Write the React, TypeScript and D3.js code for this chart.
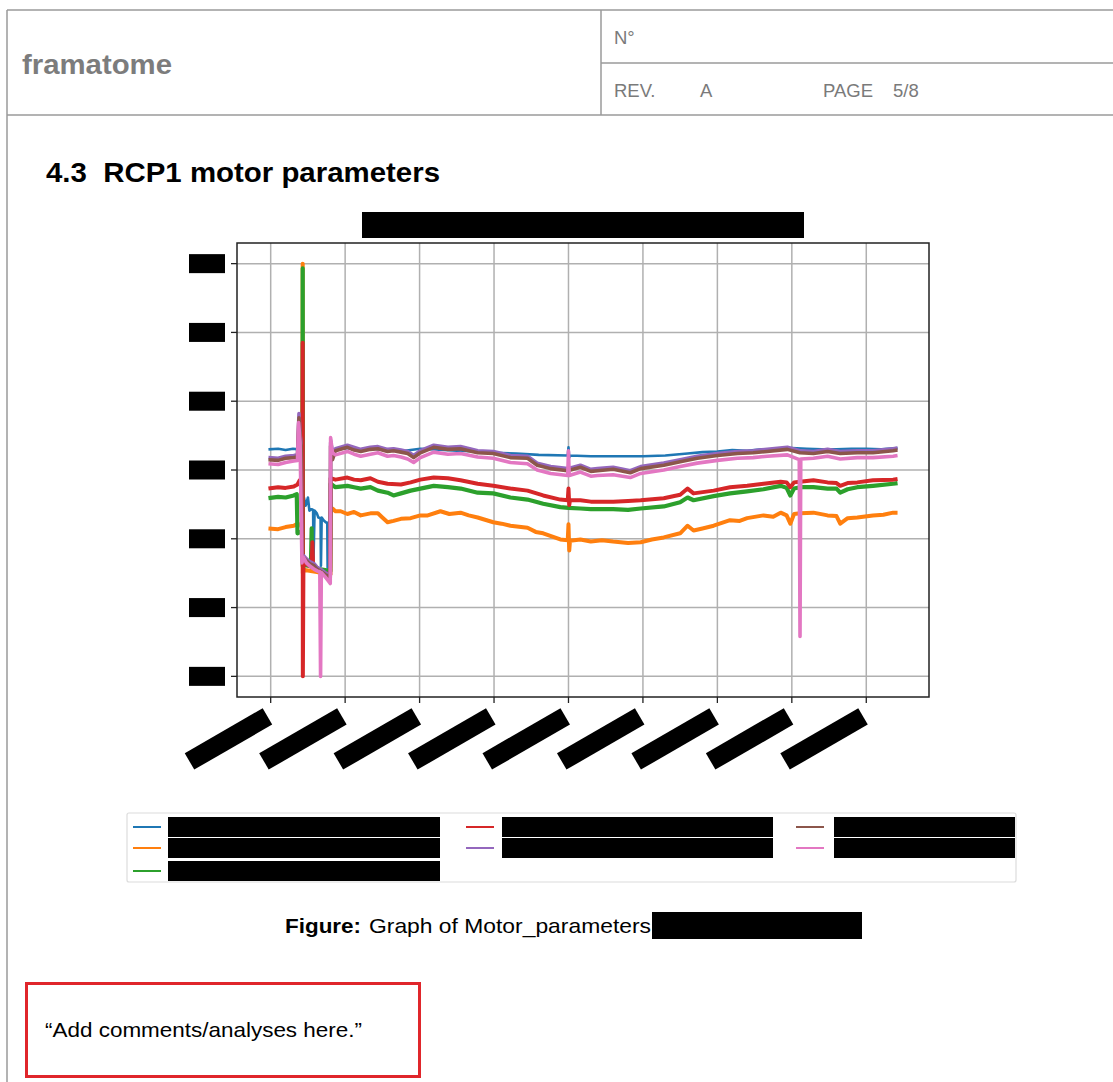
import React, { useEffect } from 'react';
import * as d3 from 'd3';

type Pt = [number, number];

// ---- data (tick labels and series names are redacted in the source) ----
const xTicks = [0, 10, 20, 30, 40, 50, 60, 70, 80];
const yTicks = [0, 10, 20, 30, 40, 50, 60];
const seriesKeys = ['blue', 'orange', 'green', 'red', 'purple', 'brown', 'pink'];
const seriesColors = ['#1f77b4', '#ff7f0e', '#2ca02c', '#d62728', '#9467bd', '#8c564b', '#e377c2'];

const blueSeries: Pt[] = [
  [-0.3, 33.0], [1, 33.1], [2, 32.9], [3, 33.1], [3.7, 33.0], [3.9, 33.3], [4.0, 33.0], [4.1, 26.0],
  [4.4, 26.3], [4.7, 24.8], [5.0, 26.0], [5.2, 24.1], [5.5, 24.3], [5.7, 24.2], [5.75, 17.0], [5.9, 24.1],
  [6.2, 23.7], [6.4, 23.1], [6.7, 23.0], [6.75, 16.1], [6.85, 23.1], [7.1, 22.7], [7.4, 22.4], [7.6, 22.3],
  [7.65, 15.8], [7.8, 22.4], [7.9, 21.9], [8.0, 21.9], [8.05, 34.6], [8.3, 33.0], [8.7, 33.0], [10.3, 33.2],
  [12, 32.9], [13.4, 33.1], [15, 33.0], [16.5, 32.9], [18, 32.8], [20.1, 33.1], [22, 33.0], [25, 32.8],
  [28, 32.7], [30, 32.5], [33, 32.4], [36, 32.2], [39.9, 32.1], [40.0, 33.3], [40.1, 31.8], [40.2, 32.1],
  [43, 32.0], [46, 32.0], [50, 32.0], [53, 32.1], [56, 32.4], [58, 32.6], [60, 32.7], [62, 32.9], [64, 32.8],
  [66, 33.0], [68, 33.0], [70, 33.2], [72, 33.1], [74, 33.0], [76, 33.0], [78, 33.1], [80, 33.1], [82, 33.0],
  [84.2, 33.2],
];

const orangeSeries: Pt[] = [
  [-0.3, 21.5], [1, 21.4], [2, 21.7], [3.1, 21.9], [3.6, 22.2], [4.0, 22.0], [4.28, 21.5], [4.3, 60.0],
  [4.32, 15.0], [4.4, 15.5], [6.0, 15.2], [8.0, 14.8], [8.05, 23.8], [8.3, 24.4], [8.7, 24.0], [9.4, 24.0],
  [10.3, 23.6], [11.2, 23.9], [12.1, 23.4], [13.4, 23.7], [14.4, 23.7], [15.0, 23.1], [15.7, 22.4], [16.5, 22.6],
  [17.5, 22.9], [18.8, 23.0], [20.1, 23.4], [21.1, 23.4], [22.8, 24.0], [24.0, 23.6], [25.5, 23.8], [26.6, 23.4],
  [27.8, 23.1], [29.9, 22.4], [31.0, 22.2], [32.2, 21.9], [34.5, 21.6], [35.6, 21.0], [36.6, 20.8], [38.9, 19.9],
  [39.9, 19.8], [40.0, 22.1], [40.1, 18.3], [40.2, 19.7], [41.6, 19.9], [43.0, 19.6], [44.5, 19.8], [46.0, 19.6],
  [48.0, 19.4], [49.7, 19.5], [51.2, 19.9], [52.8, 20.2], [55.0, 20.8], [56.0, 21.9], [56.8, 21.2], [58.0, 21.5],
  [59.5, 21.9], [61.7, 22.7], [63.0, 22.6], [64.0, 23.0], [66.2, 23.4], [67.5, 23.2], [68.5, 23.8], [69.3, 23.4],
  [69.8, 22.2], [70.3, 23.6], [71.1, 23.7], [72.9, 23.8], [74.8, 23.4], [76.0, 23.3], [76.5, 22.2], [77.5, 23.0],
  [78.8, 23.1], [80.9, 23.4], [82.3, 23.5], [83.6, 23.8], [84.2, 23.8],
];

const greenSeries: Pt[] = [
  [-0.3, 25.9], [1, 26.1], [2, 26.0], [3.1, 26.3], [3.5, 26.5], [3.6, 20.8], [4.0, 21.0], [4.28, 21.0],
  [4.3, 59.3], [4.32, 16.0], [4.4, 16.2], [5.4, 16.0], [5.5, 21.5], [5.55, 16.0], [6.5, 15.6], [7.5, 15.4],
  [8.0, 15.3], [8.05, 28.0], [8.7, 27.5], [10.3, 27.7], [11.2, 27.5], [12.1, 27.3], [13.4, 27.5], [14.4, 27.0],
  [15.7, 26.7], [16.5, 26.3], [17.5, 26.6], [18.8, 27.0], [20.1, 27.3], [21.9, 27.7], [23.8, 27.5], [25.5, 27.3],
  [27.8, 26.7], [29.9, 26.6], [32.2, 26.0], [34.5, 25.7], [36.6, 25.1], [38.9, 24.6], [40.0, 24.5], [41.6, 24.4],
  [43.0, 24.3], [46.0, 24.3], [48.0, 24.2], [49.7, 24.4], [52.8, 24.7], [55.0, 25.3], [56.0, 26.0], [56.8, 25.6],
  [59.5, 26.2], [61.7, 26.6], [64.0, 26.9], [66.2, 27.2], [68.5, 27.7], [69.3, 27.4], [69.8, 26.3], [70.3, 27.3],
  [71.1, 27.5], [72.9, 27.5], [74.8, 27.3], [76.0, 27.3], [76.5, 26.7], [77.5, 27.2], [78.8, 27.5], [80.9, 27.7],
  [83.6, 28.0], [84.2, 28.1],
];

const redSeries: Pt[] = [
  [-0.3, 27.3], [1, 27.5], [2, 27.4], [3.1, 27.6], [3.6, 27.9], [3.9, 28.5], [4.25, 28.3], [4.3, 48.5],
  [4.32, 0.0], [4.4, 16.5], [5.0, 16.2], [5.5, 15.9], [5.6, 19.5], [5.7, 16.0], [6.5, 15.5], [7.3, 15.0],
  [8.0, 14.8], [8.05, 28.8], [8.7, 28.6], [10.3, 28.9], [11.2, 28.6], [12.1, 28.5], [13.4, 28.8], [14.4, 28.3],
  [15.7, 28.0], [17.5, 27.9], [18.8, 28.2], [20.1, 28.6], [21.9, 28.9], [23.8, 28.8], [25.5, 28.5], [27.8, 28.0],
  [29.9, 27.7], [32.2, 27.3], [34.5, 27.0], [36.6, 26.3], [38.9, 25.7], [39.9, 25.6], [40.0, 27.3], [40.1, 24.9],
  [40.2, 25.6], [41.6, 25.6], [43.0, 25.4], [46.0, 25.4], [48.0, 25.5], [49.7, 25.6], [52.8, 25.9], [55.0, 26.4],
  [56.0, 27.3], [56.8, 26.6], [59.5, 27.0], [61.7, 27.5], [64.0, 27.7], [66.2, 28.0], [68.5, 28.3], [69.3, 28.2],
  [69.8, 27.5], [70.3, 28.2], [71.1, 28.3], [72.9, 28.5], [74.8, 28.2], [76.0, 28.1], [76.5, 27.7], [77.5, 28.1],
  [78.8, 28.2], [80.9, 28.5], [83.6, 28.6], [84.2, 28.7],
];

const purpleSeries: Pt[] = [
  [-0.3, 31.8], [1, 31.7], [2, 32.0], [3.1, 32.1], [3.6, 32.2], [3.8, 38.2], [3.95, 35.2], [4.1, 33.8],
  [4.2, 17.8], [4.7, 17.2], [5.2, 16.7], [5.8, 16.4], [6.2, 15.9], [6.8, 15.5], [7.3, 15.1], [7.8, 14.8],
  [8.0, 14.5], [8.05, 34.0], [8.3, 31.8], [8.7, 33.1], [10.3, 33.6], [12.1, 33.0], [13.4, 33.3], [14.4, 33.4],
  [15.7, 33.0], [16.5, 33.1], [17.5, 32.9], [18.4, 32.7], [19.2, 32.1], [20.1, 32.8], [21.9, 33.6], [23.8, 33.3],
  [25.5, 33.4], [27.8, 32.8], [29.9, 32.7], [32.2, 32.1], [34.5, 32.0], [35.8, 31.0], [37.6, 30.5], [39.9, 30.2],
  [41.6, 30.7], [43.0, 30.1], [43.9, 30.2], [46.0, 30.4], [48.3, 29.9], [49.7, 30.5], [52.8, 31.0], [55.0, 31.5],
  [57.3, 32.0], [60.0, 32.4], [62.7, 32.7], [64.8, 32.8], [66.7, 33.0], [69.4, 33.3], [71.1, 32.8], [72.9, 32.7],
  [74.8, 33.0], [76.5, 32.7], [78.8, 32.8], [80.9, 32.8], [83.6, 33.1], [84.2, 33.2],
];

const brownSeries: Pt[] = [
  [-0.3, 31.5], [1, 31.4], [2, 31.7], [3.1, 31.8], [3.6, 31.9], [3.8, 37.6], [3.95, 35.0], [4.1, 33.5],
  [4.2, 17.5], [4.7, 16.9], [5.2, 16.4], [5.8, 16.1], [6.2, 15.6], [6.8, 15.2], [7.3, 14.8], [7.8, 14.5],
  [8.0, 14.2], [8.05, 33.5], [8.3, 31.5], [8.7, 32.8], [10.3, 33.3], [11.2, 32.9], [12.1, 32.7], [13.4, 33.0],
  [14.4, 33.1], [15.7, 32.7], [16.5, 32.8], [17.5, 32.6], [18.4, 32.4], [19.2, 31.8], [20.1, 32.5], [21.9, 33.3],
  [23.8, 33.0], [25.5, 33.1], [26.6, 32.8], [27.8, 32.5], [29.9, 32.4], [32.2, 31.8], [34.5, 31.7], [35.8, 30.7],
  [37.6, 30.2], [39.9, 29.9], [41.6, 30.4], [43.0, 29.8], [43.9, 29.9], [46.0, 30.1], [48.3, 29.6], [49.7, 30.2],
  [52.8, 30.7], [55.0, 31.2], [57.3, 31.7], [60.0, 32.1], [62.7, 32.4], [64.8, 32.5], [66.7, 32.7], [69.4, 33.0],
  [71.1, 32.5], [72.9, 32.4], [74.8, 32.7], [76.5, 32.4], [78.8, 32.5], [80.9, 32.5], [83.6, 32.8], [84.2, 32.9],
];

const pinkSeries: Pt[] = [
  [-0.3, 30.9], [1, 30.8], [2, 31.1], [3.1, 31.3], [3.6, 31.4], [3.75, 36.9], [3.95, 34.0], [4.2, 16.5],
  [4.4, 17.3], [4.8, 16.5], [5.3, 16.0], [5.8, 15.6], [6.3, 15.3], [6.6, 15.2], [6.7, 0.0], [6.8, 15.1],
  [7.3, 14.5], [7.8, 13.8], [8.0, 13.5], [8.05, 34.7], [8.3, 32.5], [8.7, 32.2], [10.3, 32.7], [11.2, 32.3],
  [12.1, 32.0], [13.4, 32.3], [14.4, 32.5], [15.7, 32.0], [16.5, 32.1], [17.5, 31.9], [18.4, 31.6], [19.2, 31.1],
  [20.1, 31.8], [21.9, 32.6], [23.8, 32.3], [25.5, 32.4], [27.8, 31.9], [29.9, 31.7], [32.2, 31.1], [34.5, 30.9],
  [35.8, 30.0], [37.6, 29.5], [39.9, 29.2], [40.0, 32.8], [40.1, 29.2], [41.6, 29.7], [43.0, 29.1], [43.9, 29.2],
  [46.0, 29.3], [48.3, 28.9], [49.7, 29.5], [52.8, 30.0], [55.0, 30.5], [57.3, 31.0], [60.0, 31.4], [62.7, 31.7],
  [64.8, 31.8], [66.7, 32.0], [69.4, 32.2], [71.0, 31.5], [71.1, 5.8], [71.2, 31.6], [72.9, 31.7], [74.8, 32.0],
  [76.5, 31.6], [78.8, 31.8], [80.9, 31.8], [83.6, 32.0], [84.2, 32.1],
];

const allSeries: Pt[][] = [blueSeries, orangeSeries, greenSeries, redSeries, purpleSeries, brownSeries, pinkSeries];
const seriesWidths = [2.6, 4, 4.2, 4, 3.6, 3.6, 3.6];

// ---- layout ----
const W = 1113;
const H = 1082;
const plot = { left: 237, right: 929, top: 243, bottom: 697 };
const FONT = 'Arial, "Liberation Sans", Helvetica, sans-serif';

function padded(ext: [number, number]): [number, number] {
  const span = ext[1] - ext[0];
  return [ext[0] - span * 0.05, ext[1] + span * 0.05];
}

export default function App() {
  useEffect(() => {
    document.body.style.margin = '0';
    document.body.style.overflow = 'hidden';
  }, []);

  const allPts = allSeries.flat();
  const xExt = d3.extent(allPts, (d) => d[0]) as [number, number];
  const yExt = d3.extent(allPts, (d) => d[1]) as [number, number];
  const x = d3.scaleLinear().domain(padded(xExt)).range([plot.left, plot.right]);
  const y = d3.scaleLinear().domain(padded(yExt)).range([plot.bottom, plot.top]);
  const line = d3
    .line<Pt>()
    .x((d) => x(d[0]))
    .y((d) => y(d[1]));

  const gray = '#9a9a9a';
  const legendCols = [
    { lineX: 133, barX: 168, barW: 272, items: [0, 1, 2] },
    { lineX: 466, barX: 502, barW: 271, items: [3, 4] },
    { lineX: 796, barX: 834, barW: 181, items: [5, 6] },
  ];
  const legendRowY = [827, 848, 871];

  return (
    <svg width={W} height={H} style={{ display: 'block', background: '#fff' }} fontFamily={FONT}>
      <rect x={0} y={0} width={W} height={H} fill="#fff" />
      {/* page header frame */}
      <g stroke={gray} strokeWidth={1.5} fill="none">
        <line x1={7} y1={10} x2={W} y2={10} />
        <line x1={7} y1={10} x2={7} y2={H} />
        <line x1={7} y1={115} x2={W} y2={115} />
        <line x1={601} y1={10} x2={601} y2={115} />
        <line x1={601} y1={63} x2={W} y2={63} />
      </g>
      <text x={22} y={74} fontSize={27} fontWeight={600} fill="#7c7c7c" textLength={150} lengthAdjust="spacingAndGlyphs">
        framatome
      </text>
      <g fontSize={18.5} fill="#7a7a7a">
        <text x={614} y={44}>N°</text>
        <text x={614} y={97}>REV.</text>
        <text x={700} y={97}>A</text>
        <text x={823} y={97}>PAGE</text>
        <text x={893} y={97}>5/8</text>
      </g>

      <text x={46} y={182} fontSize={28} fontWeight={700} fill="#000" textLength={394} lengthAdjust="spacingAndGlyphs">
        4.3{'\u00a0\u00a0'}RCP1 motor parameters
      </text>

      {/* redacted chart title */}
      <rect x={362} y={212} width={442} height={26} fill="#000" />

      {/* grid */}
      <g stroke="#b0b0b0" strokeWidth={1.5}>
        {xTicks.map((t) => (
          <line key={'gx' + t} x1={x(t)} x2={x(t)} y1={plot.top} y2={plot.bottom} />
        ))}
        {yTicks.map((t) => (
          <line key={'gy' + t} x1={plot.left} x2={plot.right} y1={y(t)} y2={y(t)} />
        ))}
      </g>

      <defs>
        <clipPath id="plotClip">
          <rect x={plot.left} y={plot.top} width={plot.right - plot.left} height={plot.bottom - plot.top} />
        </clipPath>
      </defs>
      <g clipPath="url(#plotClip)" fill="none" strokeLinejoin="round">
        {allSeries.map((s, i) => (
          <path key={seriesKeys[i]} d={line(s) || ''} stroke={seriesColors[i]} strokeWidth={seriesWidths[i]} />
        ))}
      </g>

      {/* axes frame */}
      <rect
        x={plot.left}
        y={plot.top}
        width={plot.right - plot.left}
        height={plot.bottom - plot.top}
        fill="none"
        stroke="#222"
        strokeWidth={1.5}
      />
      {/* y ticks + redacted labels */}
      {yTicks.map((t) => (
        <g key={'yt' + t}>
          <line x1={plot.left - 6} x2={plot.left} y1={y(t)} y2={y(t)} stroke="#222" strokeWidth={1.3} />
          <rect x={189} y={y(t) - 9.5} width={36} height={19} fill="#000" />
        </g>
      ))}
      {/* x ticks + redacted rotated labels */}
      {xTicks.map((t) => (
        <g key={'xt' + t}>
          <line x1={x(t)} x2={x(t)} y1={plot.bottom} y2={plot.bottom + 6} stroke="#222" strokeWidth={1.3} />
          <g transform={`translate(${x(t)},${plot.bottom + 5}) rotate(-30)`}>
            <rect x={-100} y={1.3} width={90} height={19} fill="#000" />
          </g>
        </g>
      ))}

      {/* legend */}
      <rect x={127} y={813} width={889} height={69} fill="#fff" stroke="#dcdcdc" strokeWidth={1.2} rx={2} />
      {legendCols.map((col, ci) =>
        col.items.map((si, ri) => (
          <g key={'lg' + ci + ri}>
            <line
              x1={col.lineX}
              x2={col.lineX + 28}
              y1={legendRowY[ri]}
              y2={legendRowY[ri]}
              stroke={seriesColors[si]}
              strokeWidth={2}
            />
            <rect x={col.barX} y={legendRowY[ri] - 10} width={col.barW} height={20} fill="#000" />
          </g>
        ))
      )}

      {/* caption */}
      <text x={285} y={933} fontSize={21} fontWeight={700} fill="#000" textLength={76} lengthAdjust="spacingAndGlyphs">
        Figure:
      </text>
      <text x={369} y={933} fontSize={21} fill="#000" textLength={282} lengthAdjust="spacingAndGlyphs">
        Graph of Motor_parameters
      </text>
      <rect x={652} y={912} width={210} height={27} fill="#000" />

      {/* comments box */}
      <rect x={26.5} y={983.5} width={393} height={93} fill="none" stroke="#e0262b" strokeWidth={3} />
      <text x={45} y={1037} fontSize={21} fill="#000" textLength={317} lengthAdjust="spacingAndGlyphs">
        “Add comments/analyses here.”
      </text>
    </svg>
  );
}
